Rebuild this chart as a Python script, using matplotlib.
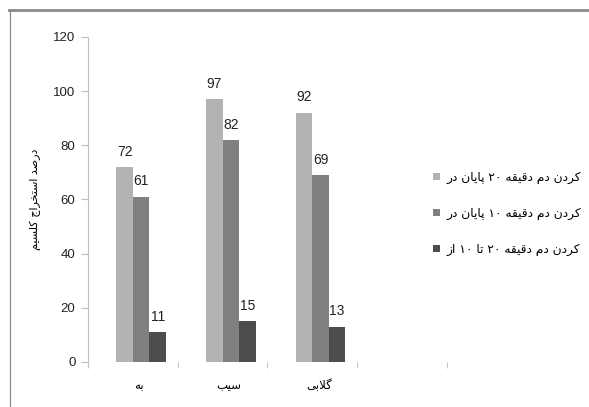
import numpy as np
import matplotlib
matplotlib.use("Agg")
import matplotlib.pyplot as plt
from matplotlib.lines import Line2D

# tea infusion data: percent extracted per fruit
categories = ["به", "سیب", "گلابی"]
series_names = ["در پایان ۲۰ دقیقه دم کردن",
                "در پایان ۱۰ دقیقه دم کردن",
                "از ۱۰ تا ۲۰ دقیقه دم کردن"]
end_20min = [72, 97, 92]
end_10min = [61, 82, 69]
from_10_to_20 = [11, 15, 13]
ylabel_text = "درصد استخراج کلسیم"
yticks = [0, 20, 40, 60, 80, 100, 120]

colors = ["#b3b3b3", "#808080", "#4d4d4d"]
num_font = ["Liberation Sans", "DejaVu Sans"]

# arabic letter forms: isolated, final, initial, medial (None -> right joining only)
FORMS = {
    "ا": ("\uFE8D", "\uFE8E", None, None),
    "ب": ("\uFE8F", "\uFE90", "\uFE91", "\uFE92"),
    "پ": ("\uFB56", "\uFB57", "\uFB58", "\uFB59"),
    "ت": ("\uFE95", "\uFE96", "\uFE97", "\uFE98"),
    "ج": ("\uFE9D", "\uFE9E", "\uFE9F", "\uFEA0"),
    "خ": ("\uFEA5", "\uFEA6", "\uFEA7", "\uFEA8"),
    "د": ("\uFEA9", "\uFEAA", None, None),
    "ر": ("\uFEAD", "\uFEAE", None, None),
    "ز": ("\uFEAF", "\uFEB0", None, None),
    "س": ("\uFEB1", "\uFEB2", "\uFEB3", "\uFEB4"),
    "ص": ("\uFEB9", "\uFEBA", "\uFEBB", "\uFEBC"),
    "ق": ("\uFED5", "\uFED6", "\uFED7", "\uFED8"),
    "ک": ("\uFB8E", "\uFB8F", "\uFB90", "\uFB91"),
    "گ": ("\uFB92", "\uFB93", "\uFB94", "\uFB95"),
    "ل": ("\uFEDD", "\uFEDE", "\uFEDF", "\uFEE0"),
    "م": ("\uFEE1", "\uFEE2", "\uFEE3", "\uFEE4"),
    "ن": ("\uFEE5", "\uFEE6", "\uFEE7", "\uFEE8"),
    "ه": ("\uFEE9", "\uFEEA", "\uFEEB", "\uFEEC"),
    "و": ("\uFEED", "\uFEEE", None, None),
    "ی": ("\uFBFC", "\uFBFD", "\uFBFE", "\uFBFF"),
    "لا": ("\uFEFB", "\uFEFC", None, None),
}


def shape_word(word):
    # merge lam + alef into one unit
    units = []
    i = 0
    while i < len(word):
        if word[i:i + 2] == "لا":
            units.append("لا")
            i += 2
        else:
            units.append(word[i])
            i += 1
    out = []
    for k, u in enumerate(units):
        if u not in FORMS:
            out.append(u)
            continue
        prev = units[k - 1] if k > 0 else None
        nxt = units[k + 1] if k + 1 < len(units) else None
        join_prev = prev in FORMS and FORMS[prev][2] is not None
        join_next = FORMS[u][2] is not None and nxt in FORMS
        iso, fin, ini, med = FORMS[u]
        if join_prev and join_next:
            out.append(med)
        elif join_prev:
            out.append(fin)
        elif join_next:
            out.append(ini)
        else:
            out.append(iso)
    if all(c not in FORMS for c in units):
        return "".join(out)
    return "".join(reversed(out))


def fa(text, rtl=False):
    words = [shape_word(w) for w in text.split(" ")]
    if rtl:
        words = words[::-1]
    return " ".join(words)


fig = plt.figure(figsize=(5.89, 4.07), dpi=100)
ax = fig.add_axes([0.1494, 0.1106, 0.6095, 0.7985])

x = np.arange(len(categories))
w = 0.184
data = [end_20min, end_10min, from_10_to_20]
for j, vals in enumerate(data):
    # first slot of each group stays empty
    pos = x + (j - 0.5) * w
    ax.bar(pos, vals, width=w, color=colors[j], label=fa(series_names[j]), zorder=2)
    for px, v in zip(pos, vals):
        ax.annotate(str(v), (px, v), xytext=(0, 6), textcoords="offset points",
                    ha="center", va="bottom", fontsize=10, color="#222222",
                    family=num_font)

ax.set_xlim(-0.5, 3.5)
ax.set_ylim(0, 120)
ax.set_yticks(yticks)
ax.set_yticklabels([str(t) for t in yticks], family=num_font,
                   fontsize=9.5, color="#222222")
ax.tick_params(axis="y", direction="out", length=5, width=0.8, color="#bfbfbf", pad=4)

ax.set_xticks(x + 0.07)
ax.set_xticklabels([fa(c) for c in categories], family="DejaVu Sans", fontsize=8.5)
ax.tick_params(axis="x", length=0, pad=12)
ax.set_xticks(np.arange(-0.5, 4.0, 1.0), minor=True)
ax.tick_params(axis="x", which="minor", direction="out", length=4, width=0.8, color="#c8c8c8")

for s in ["top", "right", "bottom"]:
    ax.spines[s].set_visible(False)
ax.spines["left"].set_color("#bfbfbf")
ax.spines["left"].set_linewidth(0.8)

ax.set_ylabel(fa(ylabel_text, rtl=True), family="DejaVu Sans", fontsize=8, labelpad=9)

ax.legend(loc="upper left", bbox_to_anchor=(0.961, 0.588), frameon=False,
          borderpad=0, borderaxespad=0,
          handlelength=0.6, handleheight=0.6, handletextpad=0.5,
          labelspacing=1.87, prop={"family": "DejaVu Sans", "size": 8.8})

# outer frame lines
fig.add_artist(Line2D([0.017, 0.017], [0.0, 0.976], transform=fig.transFigure,
                      color="#8c8c8c", lw=0.9))
fig.add_artist(Line2D([0.015, 1.0], [0.976, 0.976], transform=fig.transFigure,
                      color="#8a8a8a", lw=2.0))

fig.savefig("out.png", dpi=100)
